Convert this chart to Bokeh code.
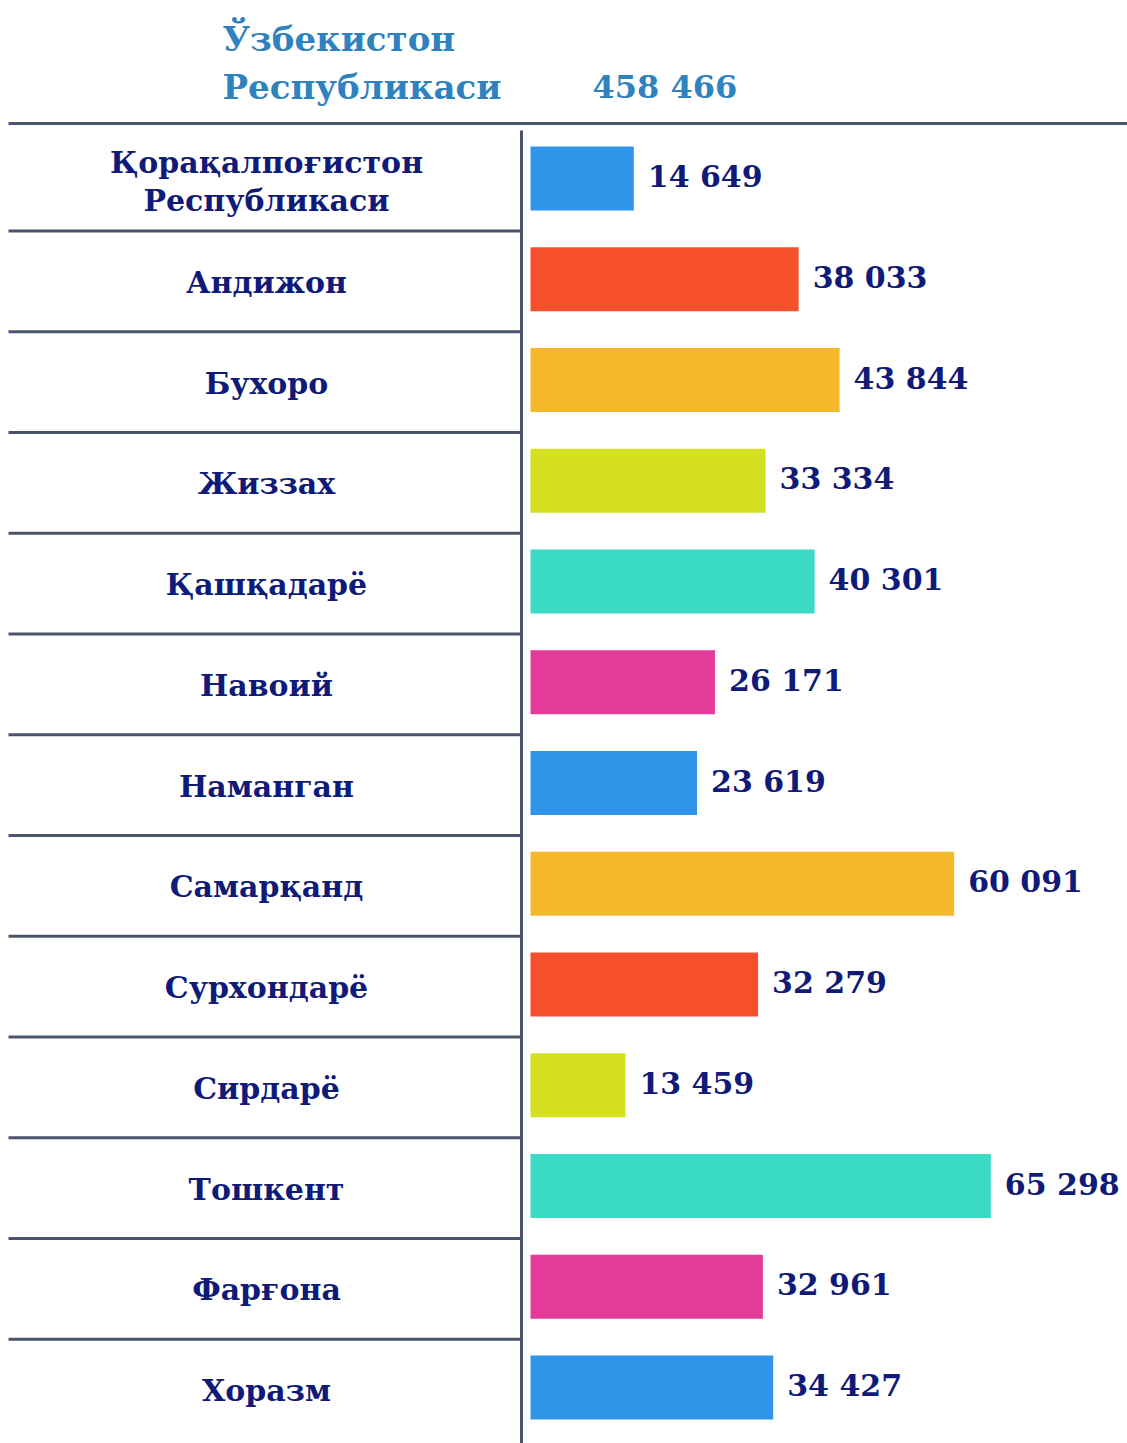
from bokeh.plotting import figure
from bokeh.models import Range1d, ColumnDataSource
from bokeh.embed import file_html
from bokeh.resources import INLINE
from bokeh.core.properties import value

# ---- data ----
regions = ["Қорақалпоғистон\nРеспубликаси", "Андижон", "Бухоро", "Жиззах", "Қашқадарё",
           "Навоий", "Наманган", "Самарқанд", "Сурхондарё", "Сирдарё", "Тошкент",
           "Фарғона", "Хоразм"]
counts = [14649, 38033, 43844, 33334, 40301, 26171, 23619, 60091, 32279, 13459, 65298,
          32961, 34427]
colors = ["#3094e8", "#f5502b", "#f5b82a", "#d5e021", "#3cdbc5", "#e23b99",
          "#3094e8", "#f5b82a", "#f5502b", "#d5e021", "#3cdbc5", "#e23b99", "#3094e8"]
title_lines = ["Ўзбекистон", "Республикаси"]
total = 458466

def fmt(v):
    return f"{v:,}".replace(",", " ")

# ---- layout (pixel geometry of the page) ----
W, H = 1127, 1443
ZERO_PX = 530          # pixel where bars start
K = 0.00705            # pixels per unit
ROW0_PX = 178          # center of first row, pixels
STEP = 100.75          # row pitch, pixels

def xpx(px):
    return (px - ZERO_PX) / K

def ypx(py):
    return (py - ROW0_PX) / STEP

p = figure(width=W, height=H, output_backend="svg", toolbar_location=None,
           x_range=Range1d(xpx(0), xpx(W)), y_range=Range1d(ypx(H), ypx(0)),
           min_border=0, min_border_left=0, min_border_right=0,
           min_border_top=0, min_border_bottom=0)
p.axis.visible = False
p.grid.visible = False
p.outline_line_color = None
p.background_fill_color = "white"

n = len(regions)
idx = list(range(n))
src = ColumnDataSource(dict(y=idx, v=counts, c=colors, lab=regions,
                            vt=[fmt(v) for v in counts]))

LINE = "#4a5468"
# separators
sep_y = [i + 0.52 for i in range(n - 1)]
p.segment(x0=[xpx(8)] * len(sep_y), x1=[xpx(521)] * len(sep_y), y0=sep_y, y1=sep_y,
          line_color=LINE, line_width=3)
# top full-width rule
p.segment(x0=[xpx(8)], x1=[xpx(W)], y0=[ypx(123)], y1=[ypx(123)], line_color=LINE, line_width=3)
# vertical rule
p.segment(x0=[xpx(521)], x1=[xpx(521)], y0=[ypx(130)], y1=[ypx(H)], line_color=LINE, line_width=3)

# bars
p.hbar(y="y", left=0, right="v", height=0.635, fill_color="c", line_color=None, source=src)

# value labels
p.text(x="v", y="y", text="vt", x_offset=14, y_offset=-2, text_align="left",
       text_baseline="middle", text_font=value("DejaVu Serif"), text_font_style="bold",
       text_font_size="30px", text_color="#101a78", source=src)

# category labels
p.text(x=[xpx(266)] * n, y=idx, text=regions, text_align="center", text_baseline="middle",
       text_font=value("DejaVu Serif"), text_font_style="bold", text_font_size="30px",
       text_line_height=1.1, y_offset=3, text_color="#101a78")

# title
TC = "#2e82c0"
p.text(x=[xpx(222), xpx(222)], y=[ypx(38), ypx(86)], text=title_lines, text_align="left",
       text_baseline="middle", text_font=value("DejaVu Serif"), text_font_style="bold",
       text_font_size="34px", text_color=TC)
p.text(x=[xpx(592)], y=[ypx(86)], text=[fmt(total)], text_align="left",
       text_baseline="middle", text_font=value("DejaVu Serif"), text_font_style="bold",
       text_font_size="32px", text_color=TC)

open("out.html", "w").write(file_html(p, INLINE))
